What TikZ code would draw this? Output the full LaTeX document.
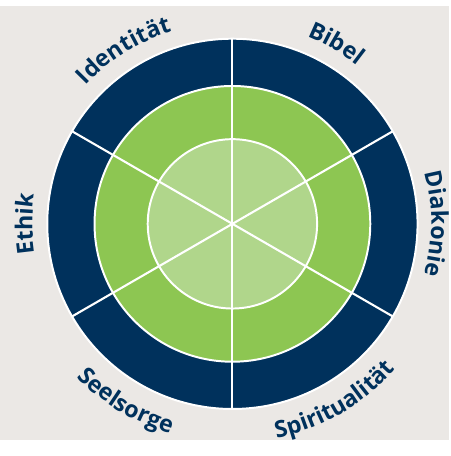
\documentclass[tikz,border=0pt]{standalone}
\usepackage{fontspec}
\setmainfont{Open Sans}
\usetikzlibrary{decorations.text}

\definecolor{paper}{RGB}{235,232,229}
\definecolor{navyring}{RGB}{0,49,92}
\definecolor{greenring}{RGB}{141,198,82}
\definecolor{lightring}{RGB}{176,214,139}
\newcommand{\ringfont}{\fontsize{17.7}{21}\selectfont\bfseries\color{navyring}}

\begin{document}
\begin{tikzpicture}[x=0.75pt,y=0.75pt]
\tikzstyle{ring}=[draw=white, line width=1.5pt]
\tikzstyle{spoke}=[draw=white, line width=1.6pt]
\tikzset{ringlabel/.style={decorate, decoration={text along path, text align=center, text={|\ringfont|#1}}}}

% Background and centre
\fill[paper] (-236,-219.5) rectangle (220,221.5);
\coordinate (centre) at (0,0);

% Rings
\draw[ring, fill=navyring] (centre) circle[radius=188];
\draw[ring, fill=greenring] (centre) circle[radius=140];
\draw[ring, fill=lightring] (centre) circle[radius=86];

% Spokes
\draw[spoke] (centre) -- (90:188);
\draw[spoke] (centre) -- (30:188);
\draw[spoke] (centre) -- (-30:188);
\draw[spoke] (centre) -- (-90:188);
\draw[spoke] (centre) -- (-150:188);
\draw[spoke] (centre) -- (150:188);

% Labels (upper half clockwise, lower half anticlockwise)
\path[ringlabel=Identität] (167:205) arc[start angle=167, end angle=77, radius=205];
\path[ringlabel=Bibel] (105:205) arc[start angle=105, end angle=15, radius=205];
\path[ringlabel=Diakonie] (45:202) arc[start angle=45, end angle=-45, radius=202];
\path[ringlabel=Ethik] (225:203) arc[start angle=225, end angle=135, radius=203];
\path[ringlabel=Spiritualität] (-110:222) arc[start angle=-110, end angle=-10, radius=222];
\path[ringlabel=Seelsorge] (-171:222) arc[start angle=-171, end angle=-71, radius=222];
\end{tikzpicture}
\end{document}
